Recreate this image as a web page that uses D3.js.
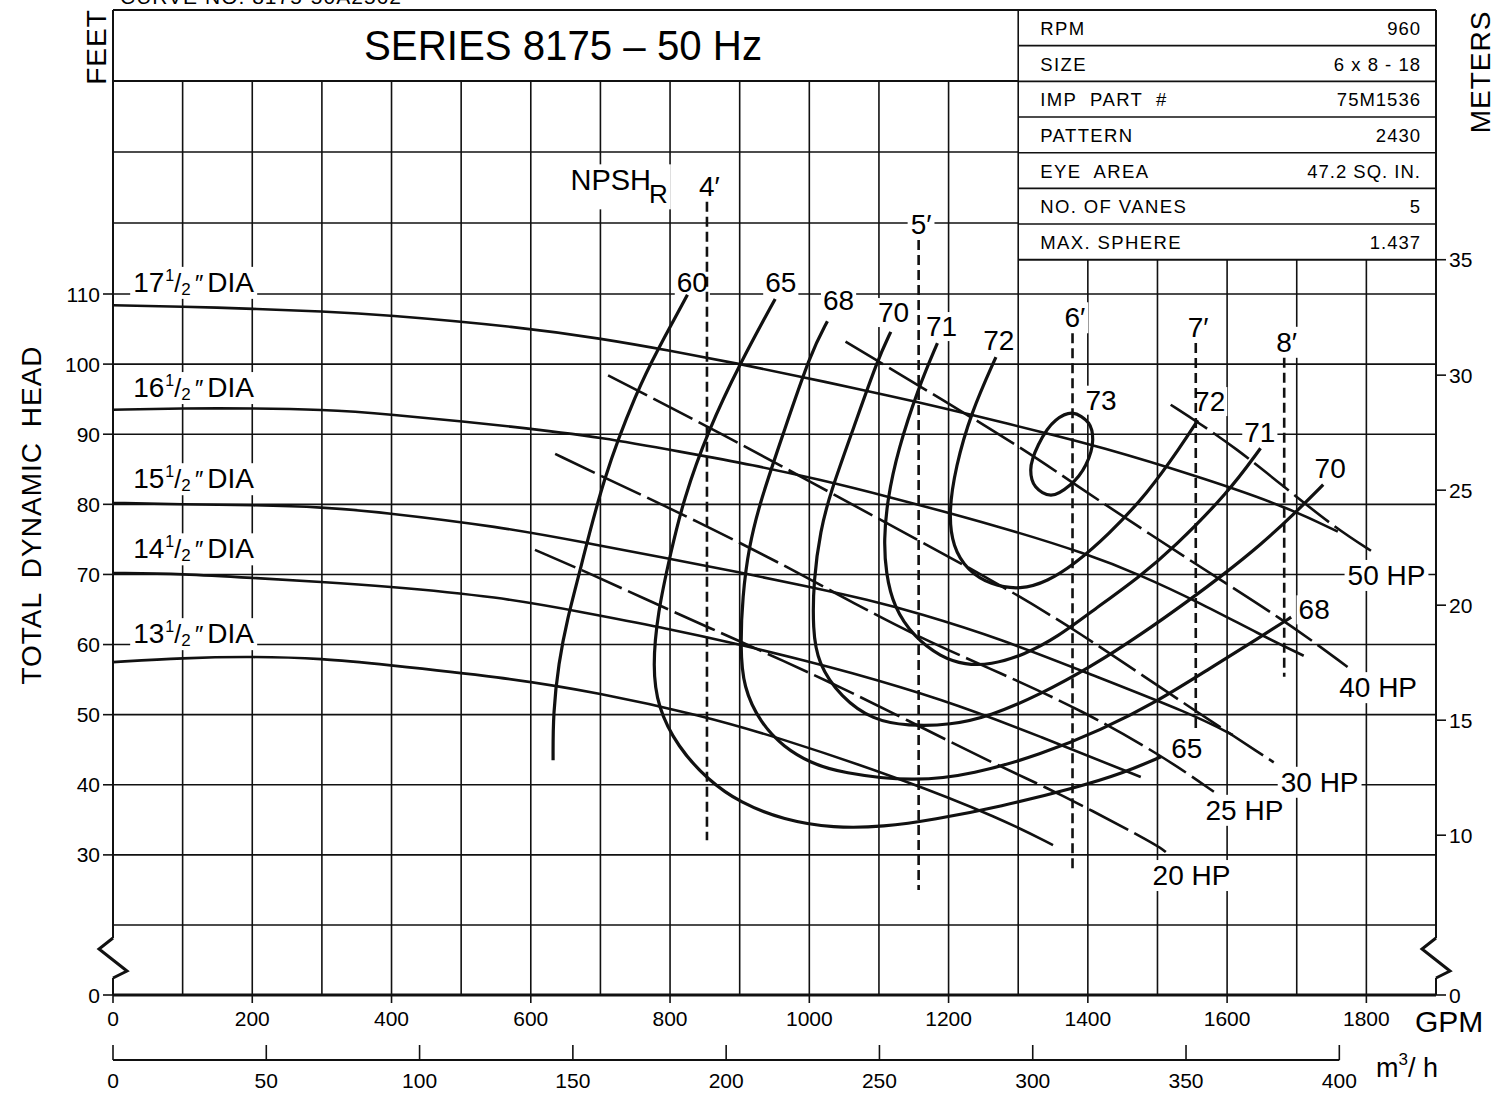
<!DOCTYPE html>
<html>
<head>
<meta charset="utf-8">
<script src="https://cdn.jsdelivr.net/npm/d3@7"></script>
<style>
  body { margin: 0; background: #fff; }
  svg { font-family: "Liberation Sans", Arial, Helvetica, sans-serif; }
</style>
</head>
<body>
<svg id="chart" width="1500" height="1102"></svg>
<script>
// ---- axis ticks ----
const gpmTicks = [0, 200, 400, 600, 800, 1000, 1200, 1400, 1600, 1800];
const m3hTicks = [0, 50, 100, 150, 200, 250, 300, 350, 400];
const feetTicks = [0, 30, 40, 50, 60, 70, 80, 90, 100, 110];
const meterTicks = [0, 10, 15, 20, 25, 30, 35];
const gridGpm = [100, 200, 300, 400, 500, 600, 700, 800, 900, 1000, 1100, 1200, 1300, 1400, 1500, 1600, 1700, 1800];
const gridFeet = [20, 30, 40, 50, 60, 70, 80, 90, 100, 110, 120, 130];

// ---- head curves [gpm, feet] ----
const dia175 = [[0,108.4],[101,108.2],[201,107.9],[302,107.5],[384,107.1],[585,105.3],[704,103.6],[801,101.9],[902,100.0],[992,98.1],[1064,96.6],[1160,94.5],[1232,92.8],[1342,90.1],[1414,88.3],[1552,84.2],[1682,79.8],[1759,76.1]];
const dia165 = [[0,93.5],[101,93.7],[201,93.7],[302,93.5],[384,93.0],[585,91.0],[704,89.5],[815,87.5],[920,85.6],[1016,83.5],[1102,81.4],[1275,76.8],[1400,72.9],[1476,69.9],[1558,66.1],[1648,61.4],[1710,58.4]];
const dia155 = [[0,80.2],[101,80.0],[201,79.9],[302,79.6],[384,78.9],[556,76.8],[675,74.6],[796,72.3],[901,70.3],[1002,68.2],[1084,66.4],[1156,64.5],[1275,60.8],[1400,55.9],[1552,50.0],[1608,47.1]];
const dia145 = [[0,70.2],[101,70.1],[201,69.5],[302,68.9],[384,68.4],[556,66.8],[675,64.6],[786,62.5],[901,60.0],[1002,57.5],[1045,56.4],[1189,52.3],[1332,46.9],[1476,41.1]];
const dia135 = [[0,57.5],[101,58.1],[201,58.3],[302,58.0],[384,57.2],[556,55.4],[700,53.1],[844,49.9],[954,46.8],[1131,40.9],[1275,35.2],[1350,31.4]];
const diaWhole = ["17", "16", "15", "14", "13"];
const diaLabelFt = [110.3, 95.3, 82.3, 72.3, 60.2];
const diaLabelGpm = 29;

// ---- efficiency curves [gpm, feet] ----
const eff60 = [[825,109.9],[782,102.0],[753,96.3],[704,83.8],[671,70.6],[652,63.5],[640,57.4],[632,50.2],[632,43.5]];
const eff65 = [[951,109.3],[901,100.2],[855,90.6],[819,80.6],[801,73.1],[782,64.5],[775,56.8],[782,51.1],[811,45.4],[854,40.7],[901,37.4],[963,35.0],[1035,33.8],[1107,34.0],[1178,35.0],[1275,36.9],[1380,39.5],[1452,41.7],[1505,44.0]];
const eff68 = [[1026,106.1],[1002,101.6],[963,90.2],[930,80.6],[913,73.9],[904,66.8],[901,59.7],[905,53.9],[930,48.8],[963,45.4],[1002,43.1],[1045,41.7],[1150,40.4],[1236,41.5],[1332,44.3],[1419,47.8],[1500,51.9],[1572,56.4],[1648,61.1],[1692,63.9]];
const eff70 = [[1117,104.6],[1098,100.6],[1064,91.0],[1030,81.6],[1016,76.3],[1006,69.2],[1005,62.1],[1012,57.4],[1045,52.5],[1092,49.2],[1141,48.4],[1203,48.5],[1260,49.8],[1332,52.9],[1404,56.8],[1476,61.4],[1548,66.5],[1595,70.0],[1648,74.2],[1696,78.6],[1738,82.8]];
const eff71 = [[1184,103.0],[1157,96.7],[1127,87.7],[1112,80.6],[1107,74.9],[1110,70.2],[1121,65.4],[1150,61.1],[1189,58.2],[1224,57.1],[1260,57.1],[1308,58.5],[1357,61.1],[1408,64.9],[1476,69.8],[1523,73.8],[1601,81.6],[1648,88.0]];
const eff72 = [[1268,101.0],[1232,93.0],[1210,85.3],[1200,78.8],[1206,73.9],[1227,70.6],[1260,68.5],[1304,67.8],[1342,69.0],[1380,71.4],[1429,75.6],[1486,81.6],[1533,88.2],[1558,92.0]];
const eff73 = [[1378,93.0],[1401,91.6],[1407,89.2],[1397,85.6],[1375,82.8],[1347,81.3],[1325,82.5],[1318,84.9],[1329,88.5],[1354,92.0]];
const effNames = ["60", "65", "68", "70", "71", "72", "73", "72", "71", "70", "68", "65"];
const effLabelGpm = [832, 959, 1042, 1121, 1190, 1272, 1419, 1575, 1647, 1748, 1725, 1542];
const effLabelFt = [110.3, 110.3, 107.7, 106.0, 104.0, 102.0, 93.5, 93.3, 88.9, 83.8, 63.6, 43.8];

// ---- horsepower lines [gpm, feet] ----
const hp50 = [[1519,94.2],[1558,91.7],[1610,88.2],[1682,82.5],[1753,76.8],[1811,73.1]];
const hp40 = [[1052,103.2],[1304,88.2],[1365,83.9],[1552,71.6],[1682,63.5],[1773,56.8]];
const hp30 = [[711,98.4],[858,90.9],[1002,83.2],[1156,74.9],[1275,68.5],[1390,61.6],[1509,53.5],[1667,43.2]];
const hp25 = [[635,87.2],[704,83.9],[790,79.9],[901,74.5],[977,70.6],[1064,65.9],[1156,61.1],[1275,55.9],[1390,50.7],[1509,44.0],[1581,39.0]];
const hp20 = [[606,73.5],[681,70.3],[762,66.6],[854,62.5],[969,57.4],[1045,53.9],[1131,49.7],[1275,42.5],[1351,39.2],[1500,31.4],[1512,30.4]];
const hpNames = ["50 HP", "40 HP", "30 HP", "25 HP", "20 HP"];
const hpLabelGpm = [1773, 1761, 1677, 1569, 1493];
const hpLabelFt = [68.5, 52.5, 39.0, 35.0, 25.7];

// ---- NPSHr lines ----
const npshNames = ["4′", "5′", "6′", "7′", "8′"];
const npshGpm = [853, 1157, 1378, 1555, 1682];
const npshTop = [123.0, 117.6, 104.4, 103.0, 100.9];
const npshBottom = [32.1, 25.0, 27.6, 47.4, 55.4];

// ---- pump data table ----
const tableLabels = ["RPM", "SIZE", "IMP  PART  #", "PATTERN", "EYE  AREA", "NO. OF VANES", "MAX. SPHERE"];
const tableValues = ["960", "6 x 8 - 18", "75M1536", "2430", "47.2 SQ. IN.", "5", "1.437"];

const FT_PER_M = 3.28084;
const GPM_PER_M3H = 4.40287;
const ink = "#111";

const svg = d3.select("#chart");
const x = d3.scaleLinear().domain([0, 1900]).range([113, 1436]);
// broken axis: 0 sits where 10 ft would be
const y = d3.scaleLinear().domain([0, 20, 110, 150]).range([995, 925, 294, 10]);

const gGrid = svg.append("g");
const gBack = svg.append("g");
const gCurves = svg.append("g");
const gText = svg.append("g");

const tableTop = y(150);
const tableBottom = y(35 * FT_PER_M);
const rowH = (tableBottom - tableTop) / tableLabels.length;

// grid
gGrid.selectAll("line.v")
  .data(gridGpm)
  .join("line")
  .attr("x1", (d) => x(d))
  .attr("x2", (d) => x(d))
  .attr("y1", (d) => (d === 1300 ? tableTop : d < 1300 ? y(140) : tableBottom))
  .attr("y2", y(0))
  .attr("stroke", ink)
  .attr("stroke-width", 1.6);

gGrid.selectAll("line.h")
  .data(gridFeet)
  .join("line")
  .attr("x1", x(0))
  .attr("x2", (d) => (d > 110 ? x(1300) : x(1900)))
  .attr("y1", (d) => y(d))
  .attr("y2", (d) => y(d))
  .attr("stroke", ink)
  .attr("stroke-width", 1.6);

// frame, header and table
const breakY = y(10);
const breakTop = breakY - 22;
const breakBottom = breakY + 18;
const frame = [
  [x(0), tableTop, x(1900), tableTop, 2],
  [x(0), y(140), x(1300), y(140), 2],
  [x(0), tableTop, x(0), breakTop, 2],
  [x(0), breakBottom, x(0), y(0), 2],
  [x(1900), tableTop, x(1900), breakTop, 2],
  [x(1900), breakBottom, x(1900), y(0), 2],
  [x(0), y(0), x(1900), y(0), 3],
  [x(1300), tableBottom, x(1900), tableBottom, 2],
];
for (let i = 1; i < tableLabels.length; i++) {
  frame.push([x(1300), tableTop + i * rowH, x(1900), tableTop + i * rowH, 1.6]);
}
gGrid.selectAll("line.f")
  .data(frame)
  .join("line")
  .attr("x1", (d) => d[0])
  .attr("y1", (d) => d[1])
  .attr("x2", (d) => d[2])
  .attr("y2", (d) => d[3])
  .attr("stroke", ink)
  .attr("stroke-width", (d) => d[4]);

// axis break marks
const zig = [[0, -22], [-14, -11], [0, 0], [14, 11], [0, 18]];
[x(0), x(1900)].forEach(function (bx) {
  gCurves.append("path")
    .attr("d", d3.line()(zig.map((p) => [bx + p[0], breakY + p[1]])))
    .attr("fill", "none")
    .attr("stroke", ink)
    .attr("stroke-width", 3);
});

// left ticks (feet)
gGrid.selectAll("line.lt")
  .data(feetTicks)
  .join("line")
  .attr("x1", x(0) - 10)
  .attr("x2", x(0))
  .attr("y1", (d) => y(d))
  .attr("y2", (d) => y(d))
  .attr("stroke", ink)
  .attr("stroke-width", 1.6);
gText.selectAll("text.lt")
  .data(feetTicks)
  .join("text")
  .attr("x", x(0) - 13)
  .attr("y", (d) => y(d))
  .attr("dy", "0.36em")
  .attr("text-anchor", "end")
  .attr("font-size", 21)
  .text((d) => d);

// right ticks (meters)
gGrid.selectAll("line.rt")
  .data(meterTicks)
  .join("line")
  .attr("x1", x(1900))
  .attr("x2", x(1900) + 10)
  .attr("y1", (d) => y(d * FT_PER_M))
  .attr("y2", (d) => y(d * FT_PER_M))
  .attr("stroke", ink)
  .attr("stroke-width", 1.6);
gText.selectAll("text.rt")
  .data(meterTicks)
  .join("text")
  .attr("x", x(1900) + 13)
  .attr("y", (d) => y(d * FT_PER_M))
  .attr("dy", "0.36em")
  .attr("font-size", 21)
  .text((d) => d);

// bottom GPM ticks
gGrid.selectAll("line.bt")
  .data(gpmTicks)
  .join("line")
  .attr("x1", (d) => x(d))
  .attr("x2", (d) => x(d))
  .attr("y1", y(0))
  .attr("y2", y(0) + 8)
  .attr("stroke", ink)
  .attr("stroke-width", 1.6);
gText.selectAll("text.bt")
  .data(gpmTicks)
  .join("text")
  .attr("x", (d) => x(d))
  .attr("y", y(0) + 31)
  .attr("text-anchor", "middle")
  .attr("font-size", 21)
  .text((d) => d);
gText.append("text")
  .attr("x", 1415)
  .attr("y", 1032)
  .attr("font-size", 30)
  .text("GPM");

// m3/h axis
const m3Y = 1060;
gGrid.append("line")
  .attr("x1", x(0))
  .attr("x2", x(400 * GPM_PER_M3H))
  .attr("y1", m3Y)
  .attr("y2", m3Y)
  .attr("stroke", ink)
  .attr("stroke-width", 2);
gGrid.selectAll("line.mt")
  .data(m3hTicks)
  .join("line")
  .attr("x1", (d) => x(d * GPM_PER_M3H))
  .attr("x2", (d) => x(d * GPM_PER_M3H))
  .attr("y1", m3Y - 15)
  .attr("y2", m3Y)
  .attr("stroke", ink)
  .attr("stroke-width", 1.6);
gText.selectAll("text.mt")
  .data(m3hTicks)
  .join("text")
  .attr("x", (d) => x(d * GPM_PER_M3H))
  .attr("y", m3Y + 28)
  .attr("text-anchor", "middle")
  .attr("font-size", 21)
  .text((d) => d);
const m3 = gText.append("text").attr("x", 1376).attr("y", 1077).attr("font-size", 27);
m3.append("tspan").text("m");
m3.append("tspan").attr("font-size", 17).attr("dy", -12).text("3");
m3.append("tspan").attr("dy", 12).text("/ h");

// axis titles, header, table
gText.append("text")
  .attr("transform", "translate(41,515) rotate(-90)")
  .attr("text-anchor", "middle")
  .attr("font-size", 28)
  .attr("letter-spacing", 1)
  .attr("word-spacing", 6)
  .text("TOTAL DYNAMIC HEAD");
gText.append("text")
  .attr("transform", "translate(106,47) rotate(-90)")
  .attr("text-anchor", "middle")
  .attr("font-size", 28)
  .attr("letter-spacing", 1)
  .text("FEET");
gText.append("text")
  .attr("transform", "translate(1490,72) rotate(-90)")
  .attr("text-anchor", "middle")
  .attr("font-size", 28)
  .attr("letter-spacing", 1)
  .text("METERS");
gText.append("text")
  .attr("x", 120)
  .attr("y", 4)
  .attr("font-size", 21)
  .attr("letter-spacing", 1)
  .text("CURVE  NO. 8175-50A2562");
gText.append("text")
  .attr("x", 364)
  .attr("y", 60)
  .attr("font-size", 42)
  .attr("textLength", 398)
  .attr("lengthAdjust", "spacingAndGlyphs")
  .text("SERIES 8175 – 50 Hz");

gText.selectAll("text.tl")
  .data(tableLabels)
  .join("text")
  .attr("x", x(1300) + 22)
  .attr("y", (d, i) => tableTop + (i + 0.5) * rowH + 7)
  .attr("font-size", 18.5)
  .attr("letter-spacing", 1.4)
  .style("white-space", "pre")
  .text((d) => d);
gText.selectAll("text.tv")
  .data(tableValues)
  .join("text")
  .attr("x", x(1900) - 15)
  .attr("y", (d, i) => tableTop + (i + 0.5) * rowH + 7)
  .attr("text-anchor", "end")
  .attr("font-size", 18.5)
  .attr("letter-spacing", 1)
  .text((d) => d);

// curves
function curve(data, width, dash, closed) {
  const line = d3.line()
    .x((d) => x(d[0]))
    .y((d) => y(d[1]))
    .curve(closed ? d3.curveCatmullRomClosed : d3.curveBasis);
  gCurves.append("path")
    .attr("d", line(data))
    .attr("fill", "none")
    .attr("stroke", ink)
    .attr("stroke-width", width)
    .attr("stroke-dasharray", dash)
    .attr("stroke-linejoin", "round");
}

[dia175, dia165, dia155, dia145, dia135].forEach((d) => curve(d, 2.6, null, false));
[eff60, eff65, eff68, eff70, eff71, eff72].forEach((d) => curve(d, 3.2, null, false));
curve(eff73, 3.2, null, true);
[hp50, hp40, hp30, hp25, hp20].forEach((d) => curve(d, 2.6, "44,7", false));

gCurves.selectAll("line.npsh")
  .data(npshGpm)
  .join("line")
  .attr("x1", (d) => x(d))
  .attr("x2", (d) => x(d))
  .attr("y1", (d, i) => y(npshTop[i]))
  .attr("y2", (d, i) => y(npshBottom[i]))
  .attr("stroke", ink)
  .attr("stroke-width", 2.6)
  .attr("stroke-dasharray", "10,5");

// labels (white patch behind each, so the grid breaks around them)
function patch(sel, pad) {
  sel.each(function () {
    const b = this.getBBox();
    gBack.append("rect")
      .attr("x", b.x - pad)
      .attr("y", b.y + 3 - pad)
      .attr("width", b.width + 2 * pad)
      .attr("height", b.height - 6 + 2 * pad)
      .attr("fill", "#fff");
  });
}

diaWhole.forEach(function (w, i) {
  const t = gText.append("text")
    .attr("x", x(diaLabelGpm))
    .attr("y", y(diaLabelFt[i]))
    .attr("font-size", 28);
  t.append("tspan").text(w);
  t.append("tspan").attr("font-size", 16).attr("dy", -11).attr("dx", 1).text("1");
  t.append("tspan").attr("font-size", 25).attr("dy", 11).text("/");
  t.append("tspan").attr("font-size", 17).attr("dy", 3).text("2");
  t.append("tspan").attr("font-size", 24).attr("dy", -3).attr("dx", 3).attr("font-style", "italic").text("″");
  t.append("tspan").attr("dx", 5).text("DIA");
  patch(t, 3);
});

const effText = gText.selectAll("text.eff")
  .data(effNames)
  .join("text")
  .attr("x", (d, i) => x(effLabelGpm[i]))
  .attr("y", (d, i) => y(effLabelFt[i]))
  .attr("text-anchor", "middle")
  .attr("font-size", 28)
  .text((d) => d);
patch(effText, 2);

const hpText = gText.selectAll("text.hp")
  .data(hpNames)
  .join("text")
  .attr("x", (d, i) => x(hpLabelGpm[i]))
  .attr("y", (d, i) => y(hpLabelFt[i]))
  .attr("font-size", 28)
  .text((d) => d);
patch(hpText, 3);

const npText = gText.selectAll("text.np")
  .data(npshNames)
  .join("text")
  .attr("x", (d, i) => x(npshGpm[i]) - 8)
  .attr("y", (d, i) => y(npshTop[i]) - 6)
  .attr("font-size", 28)
  .text((d) => d);
patch(npText, 3);

const npsh = gText.append("text")
  .attr("x", x(657))
  .attr("y", y(124.6))
  .attr("font-size", 29);
npsh.append("tspan").text("NPSH");
npsh.append("tspan").attr("font-size", 26).attr("dy", 13).attr("dx", -2).text("R");
patch(npsh, 3);
</script>
</body>
</html>
